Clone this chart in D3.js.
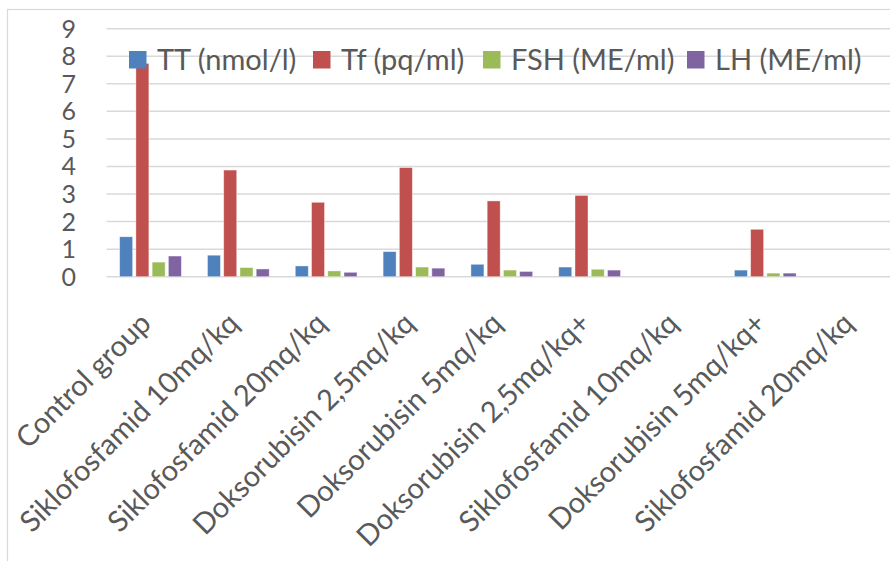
<!DOCTYPE html>
<html>
<head>
<meta charset="utf-8">
<script src="https://cdn.jsdelivr.net/npm/d3@7"></script>
<style>
  html, body { margin: 0; padding: 0; background: #fff; overflow: hidden; }
  svg { display: block; }
</style>
</head>
<body>
<svg id="chart" width="890" height="561"></svg>
<script>
const categories = [
  "Control group",
  "Siklofosfamid 10mq/kq",
  "Siklofosfamid 20mq/kq",
  "Doksorubisin 2,5mq/kq",
  "Doksorubisin 5mq/kq",
  "Doksorubisin 2,5mq/kq+",
  "Siklofosfamid 10mq/kq",
  "Doksorubisin 5mq/kq+",
  "Siklofosfamid 20mq/kq"
];
const seriesNames = ["TT (nmol/l)", "Tf (pq/ml)", "FSH (ME/ml)", "LH (ME/ml)"];
const seriesColors = ["#4f81bd", "#c0504d", "#9bbb59", "#8064a2"];
const ttValues  = [1.45, 0.78, 0.39, 0.91, 0.45, 0.35, 0, 0.24, 0];
const tfValues  = [7.74, 3.87, 2.70, 3.96, 2.75, 2.95, 0, 1.72, 0];
const fshValues = [0.53, 0.33, 0.21, 0.35, 0.24, 0.27, 0, 0.13, 0];
const lhValues  = [0.75, 0.28, 0.16, 0.31, 0.19, 0.24, 0, 0.13, 0];
const yTicks = [0, 1, 2, 3, 4, 5, 6, 7, 8, 9];

const seriesValues = [ttValues, tfValues, fshValues, lhValues];
const FONT = "Lato, 'Open Sans', sans-serif";
const TEXT = "#595959";

const svg = d3.select("#chart");

// outer chart border (only left and top visible in the crop)
svg.append("rect")
  .attr("x", 7.5).attr("y", 9.5)
  .attr("width", 1000).attr("height", 1000)
  .attr("fill", "none").attr("stroke", "#d9d9d9").attr("stroke-width", 1.2);

const plotLeft = 106.6, plotRight = 897;
const y = d3.scaleLinear().domain([0, 9]).range([276.7, 28.7]);
const x0 = d3.scaleBand().domain(d3.range(categories.length))
  .range([plotLeft, plotRight]).paddingInner(0.26).paddingOuter(0.13);
const x1 = d3.scaleBand().domain(d3.range(seriesNames.length))
  .range([0, x0.bandwidth()]).paddingInner(0.2).paddingOuter(0.1);

// gridlines
svg.append("g").selectAll("line").data(yTicks).join("line")
  .attr("x1", plotLeft).attr("x2", 890)
  .attr("y1", d => y(d)).attr("y2", d => y(d))
  .attr("stroke", "#d9d9d9").attr("stroke-width", 1.5);

// y tick labels
svg.append("g").selectAll("text").data(yTicks).join("text")
  .attr("x", 76).attr("y", d => y(d))
  .attr("dy", "0.36em")
  .attr("text-anchor", "end")
  .attr("font-family", FONT).attr("font-size", 25)
  .attr("fill", TEXT)
  .text(d => d);

// bars
const groups = svg.append("g").selectAll("g").data(categories).join("g")
  .attr("transform", (d, i) => `translate(${x0(i)},0)`);
groups.selectAll("rect")
  .data((d, i) => seriesValues.map((vals, s) => ({ s, v: vals[i] })))
  .join("rect")
  .filter(d => d.v > 0)
  .attr("x", d => x1(d.s))
  .attr("width", x1.bandwidth())
  .attr("y", d => y(d.v))
  .attr("height", d => y(0) - y(d.v))
  .attr("fill", d => seriesColors[d.s])
  .attr("stroke", "#ffffff").attr("stroke-opacity", 0.5).attr("stroke-width", 0.8);

// x labels
svg.append("g").selectAll("text").data(categories).join("text")
  .attr("transform", (d, i) => `translate(${x0(i) + x0.bandwidth() / 2 - 5},318) rotate(-45)`)
  .attr("text-anchor", "end")
  .attr("dy", "0.35em")
  .attr("font-family", FONT).attr("font-size", 29)
  .attr("fill", TEXT)
  .text(d => d);

// legend
const legendX = [129, 313, 483, 687];
const leg = svg.append("g").selectAll("g").data(seriesNames).join("g")
  .attr("transform", (d, i) => `translate(${legendX[i]},51)`);
leg.append("rect").attr("width", 17.5).attr("height", 17.5)
  .attr("fill", (d, i) => seriesColors[i]);
leg.append("text").attr("x", 28).attr("y", 9).attr("dy", "0.36em")
  .attr("font-family", FONT).attr("font-size", 29)
  .attr("fill", TEXT)
  .text(d => d);
</script>
</body>
</html>
